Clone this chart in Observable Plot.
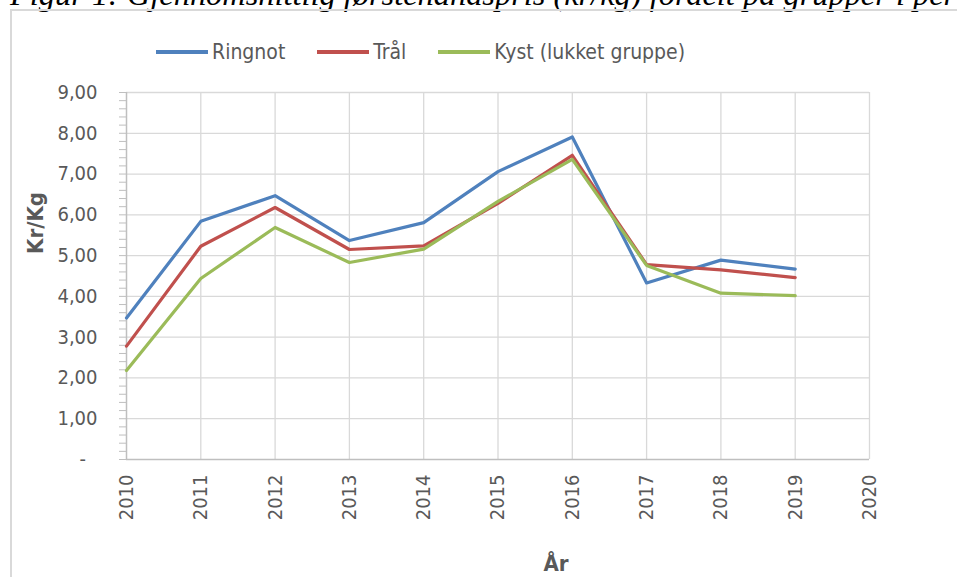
<!DOCTYPE html>
<html>
<head>
<meta charset="utf-8">
<script src="https://cdn.jsdelivr.net/npm/d3@7"></script>
<script src="https://cdn.jsdelivr.net/npm/@observablehq/plot@0.6"></script>
<style>
  body { margin: 0; background: #fff; }
  #wrap { position: relative; width: 957px; height: 577px; overflow: hidden; background: #fff;
          font-family: "DejaVu Sans Condensed", "DejaVu Sans", "Liberation Sans", sans-serif; }
  #frame { position: absolute; left: 10px; top: 9px; width: 980px; height: 600px;
           border-left: 2px solid #d9d9d9; border-top: 2px solid #d9d9d9; }
  #chart { position: absolute; left: 0; top: 0; }
  #title { position: absolute; left: 0; top: 0; }
  #legend { position: absolute; left: 156px; top: 38px; display: flex; gap: 32px;
            font-size: 21px; color: #595959; line-height: 28px; }
  .item { display: flex; align-items: center; }
  .swatch { width: 52px; height: 4px; margin-right: 4px; }
  .ylab { position: absolute; left: 35px; top: 223px; transform: translate(-50%, -50%) rotate(-90deg);
          font-weight: bold; font-size: 22px; color: #595959; white-space: nowrap; }
  .xlab { position: absolute; left: 556px; top: 563px; transform: translate(-50%, -50%);
          font-weight: bold; font-size: 22px; color: #595959; white-space: nowrap; }
</style>
</head>
<body>
<div id="wrap">
  <svg id="title" width="957" height="40">
    <text x="10" y="5" font-family="Liberation Serif, Times New Roman, serif" font-style="italic" font-size="32.4" fill="#000">Figur 1: Gjennomsnittlig førstehåndspris (kr/kg) fordelt på grupper i perioden 2010-2019</text>
  </svg>
  <div id="frame"></div>
  <div id="chart"></div>
  <div id="legend"></div>
  <div class="ylab">Kr/Kg</div>
  <div class="xlab">År</div>
</div>
<script>
// ---- Data ----
const years = [2010, 2011, 2012, 2013, 2014, 2015, 2016, 2017, 2018, 2019];
const ringnot = [3.47, 5.84, 6.47, 5.37, 5.81, 7.06, 7.91, 4.33, 4.89, 4.67];
const tral    = [2.78, 5.23, 6.18, 5.15, 5.24, 6.28, 7.46, 4.78, 4.65, 4.46];
const kyst    = [2.18, 4.44, 5.69, 4.83, 5.16, 6.33, 7.36, 4.76, 4.08, 4.02];
const seriesNames = ["Ringnot", "Trål", "Kyst (lukket gruppe)"];
const seriesColors = ["#4f81bd", "#c0504d", "#9bbb59"];
const xTicks = [2010, 2011, 2012, 2013, 2014, 2015, 2016, 2017, 2018, 2019, 2020];
const yTicks = [0, 1, 2, 3, 4, 5, 6, 7, 8, 9];

const seriesValues = [ringnot, tral, kyst];
const rows = seriesNames.flatMap((name, i) =>
  years.map((year, j) => ({ series: name, year, value: seriesValues[i][j] })));

const minorTicks = d3.range(0, 9.0001, 0.2);
const fmt = d => d === 0 ? "-\u2007" : d.toFixed(2).replace(".", ",");

const chart = Plot.plot({
  width: 957,
  height: 577,
  marginLeft: 126,
  marginRight: 88,
  marginTop: 92,
  marginBottom: 118,
  style: { fontFamily: '"DejaVu Sans Condensed", "DejaVu Sans", "Liberation Sans", sans-serif', fontSize: "20px", color: "#595959", background: "transparent" },
  x: { type: "linear", domain: [2010, 2020] },
  y: { domain: [0, 9] },
  color: { domain: seriesNames, range: seriesColors },
  marks: [
    Plot.gridY(yTicks.filter(d => d > 0), { stroke: "#d9d9d9", strokeOpacity: 1, strokeWidth: 1.3 }),
    Plot.gridX(xTicks.filter(d => d > 2010), { stroke: "#d9d9d9", strokeOpacity: 1, strokeWidth: 1.3 }),
    Plot.axisY({ ticks: minorTicks, tickSize: 7, tickFormat: () => "", stroke: "#bfbfbf", label: null }),
    Plot.axisY({ ticks: yTicks, tickSize: 0, tickPadding: 29, tickFormat: fmt, label: null }),
    Plot.axisX({ ticks: xTicks, tickSize: 0, tickPadding: 15, tickRotate: -90, tickFormat: d => String(d), label: null }),
    Plot.ruleY([0], { stroke: "#bfbfbf", strokeWidth: 1.5 }),
    Plot.ruleX([2010], { stroke: "#bfbfbf", strokeWidth: 1.5 }),
    Plot.line(rows, { x: "year", y: "value", z: "series", stroke: "series", strokeWidth: 3.2 })
  ]
});
document.getElementById("chart").appendChild(chart);

const legend = document.getElementById("legend");
seriesNames.forEach((name, i) => {
  const item = document.createElement("div");
  item.className = "item";
  const sw = document.createElement("span");
  sw.className = "swatch";
  sw.style.background = seriesColors[i];
  const tx = document.createElement("span");
  tx.textContent = name;
  item.appendChild(sw);
  item.appendChild(tx);
  legend.appendChild(item);
});
</script>
</body>
</html>
